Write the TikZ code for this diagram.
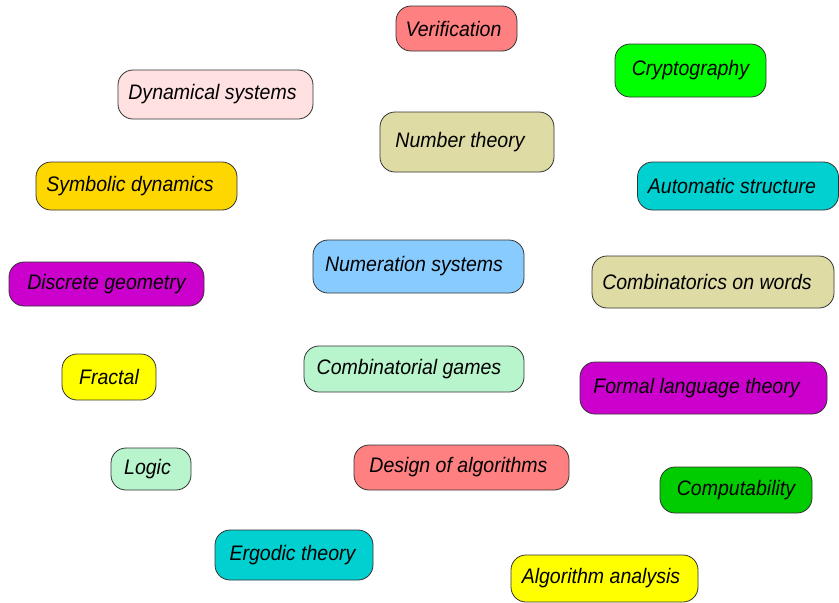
\documentclass[tikz,border=0pt]{standalone}
\usepackage{fontspec}
\setmainfont{Liberation Sans}[FakeStretch=0.93]
\usepackage{xcolor}
\usetikzlibrary{positioning}
\definecolor{salmonred}{HTML}{FF8080}
\definecolor{brightgreen}{HTML}{00FF00}
\definecolor{paleblush}{HTML}{FFE1E1}
\definecolor{khaki}{HTML}{DEDBA5}
\definecolor{goldfill}{HTML}{FFD700}
\definecolor{turquoise}{HTML}{00D0D0}
\definecolor{magentafill}{HTML}{CC00CC}
\definecolor{skyblue}{HTML}{88CCFF}
\definecolor{yellowfill}{HTML}{FFFF00}
\definecolor{mintgreen}{HTML}{B8F5CC}
\definecolor{darkergreen}{HTML}{00CC00}
\definecolor{edgegray}{HTML}{333333}

\tikzset{
  topic/.style={draw=edgegray, line width=0.8pt, rounded corners=15pt,
    inner sep=0pt, font=\fontsize{21}{24}\selectfont\itshape},
  % pushes the label to the left inside its box
  lpad/.style={execute at end node={\hspace*{#1}}}
}

\begin{document}
\begin{tikzpicture}[x=1pt, y=-1pt]
  \useasboundingbox (0,0) rectangle (839,603);
  % top row
  \node[topic, fill=salmonred, minimum width=121pt, minimum height=45pt, lpad=6pt] (verif) at (456.5,28.5) {Verification};
  \node[topic, fill=brightgreen, minimum width=151pt, minimum height=53pt] (crypto) at (690.5,70.5) {Cryptography};
  \node[topic, fill=paleblush, minimum width=195pt, minimum height=49pt, lpad=6pt] (dynsys) at (215.5,94.5) {Dynamical systems};
  \node[topic, fill=khaki, minimum width=174pt, minimum height=60pt, lpad=14pt] (numth) at (467,142) {Number theory};
  \node[topic, fill=goldfill, minimum width=201pt, minimum height=48pt, lpad=13pt] (symdyn) at (136.5,186) {Symbolic dynamics};
  \node[topic, fill=turquoise, minimum width=201pt, minimum height=48pt, lpad=12pt] (autstr) at (738,186) {Automatic structure};
  % middle
  \node[topic, fill=magentafill, minimum width=195pt, minimum height=44pt] (discgeo) at (106.5,284) {Discrete geometry};
  \node[topic, fill=skyblue, minimum width=211pt, minimum height=53pt, lpad=9pt] (numsys) at (418.5,266.5) {Numeration systems};
  \node[topic, fill=khaki, minimum width=242pt, minimum height=52pt, lpad=12pt] (combwords) at (713,282) {Combinatorics on words};
  \node[topic, fill=yellowfill, minimum width=94pt, minimum height=46pt] (fractal) at (109,377) {Fractal};
  \node[topic, fill=mintgreen, minimum width=220pt, minimum height=46pt, lpad=10pt] (combgames) at (414,369) {Combinatorial games};
  \node[topic, fill=magentafill, minimum width=247pt, minimum height=52pt, lpad=14pt] (formlang) at (703.5,388) {Formal language theory};
  % bottom
  \node[topic, fill=mintgreen, minimum width=80pt, minimum height=42pt, lpad=7pt] (logic) at (151,469) {Logic};
  \node[topic, fill=salmonred, minimum width=215pt, minimum height=45pt, lpad=6pt] (designalg) at (461.5,467.5) {Design of algorithms};
  \node[topic, fill=darkergreen, minimum width=152pt, minimum height=46pt] (comput) at (736,490) {Computability};
  \node[topic, fill=turquoise, minimum width=158pt, minimum height=50pt, lpad=3pt] (ergodic) at (294,555) {Ergodic theory};
  \node[topic, fill=yellowfill, minimum width=187pt, minimum height=47pt, lpad=7pt] (alganal) at (604.5,578.5) {Algorithm analysis};
\end{tikzpicture}
\end{document}
